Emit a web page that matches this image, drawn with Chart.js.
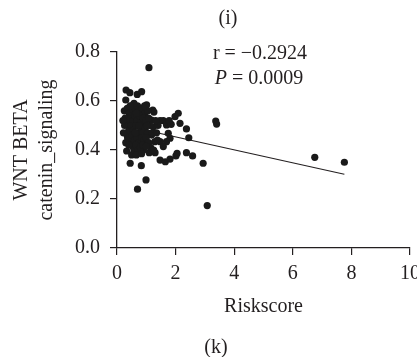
<!DOCTYPE html>
<html>
<head>
<meta charset="utf-8">
<script src="https://cdn.jsdelivr.net/npm/chart.js@4"></script>
<style>
  html, body { margin: 0; padding: 0; background: #fff; overflow: hidden; width: 417px; height: 357px; }
  #wrap { position: relative; width: 417px; height: 357px; overflow: hidden; }
  canvas { position: absolute; left: 0; top: 0; }
  .lbl { position: absolute; font-family: "Liberation Serif", "Times New Roman", serif; font-size: 20px; color: #231f20; white-space: nowrap; transform: translate(-50%, -50%); line-height: 1; }
</style>
</head>
<body>
<div id="wrap">
  <canvas id="c" width="440" height="357"></canvas>
  <div class="lbl" style="left:228px; top:17px;">(i)</div>
  <div class="lbl" style="left:260px; top:52px;">r = −0.2924</div>
  <div class="lbl" style="left:259px; top:77px;"><i>P</i> = 0.0009</div>
  <div class="lbl" style="left:216px; top:346px;">(k)</div>
</div>
<script>
// Data
const riskscore = [
  1.09, 0.31, 0.44, 0.69, 0.84, 0.30, 1.01, 1.22, 2.09, 1.98, 2.15, 3.37, 3.40,
  0.31, 0.33, 0.33, 0.45, 0.58, 0.70, 0.83, 0.99, 0.90, 1.10, 1.30, 1.47, 1.65,
  1.81, 2.01, 2.05, 2.37, 2.58, 2.94, 3.08, 6.75, 7.76, 2.37, 2.45, 1.69, 1.75,
  1.58, 1.47, 1.81, 1.69, 1.47, 1.58, 1.29, 1.18, 1.24, 1.18, 1.26, 1.85, 1.78,
  0.25, 0.35, 0.42, 0.50, 0.55, 0.62, 0.70, 0.78, 0.86, 0.95, 1.05, 0.28, 0.38,
  0.46, 0.54, 0.60, 0.68, 0.76, 0.82, 0.90, 0.98, 1.08, 0.26, 0.40, 0.48, 0.56,
  0.64, 0.72, 0.80, 0.88, 0.96, 1.04, 1.12, 0.36, 0.44, 0.52, 0.60, 0.68, 0.76,
  0.84, 0.92, 1.00, 1.08, 0.30, 0.48, 0.56, 0.64, 0.72, 0.80, 0.88, 1.15, 1.20,
  0.40, 0.62, 0.74, 0.58, 0.45, 0.66, 0.94, 1.02, 1.35, 1.40, 1.38, 1.32, 0.22,
  0.50, 0.66, 0.84, 1.00, 1.25, 0.20
];
const wntBeta = [
  0.736, 0.645, 0.634, 0.627, 0.638, 0.604, 0.584, 0.563, 0.550, 0.536, 0.509, 0.518, 0.506,
  0.522, 0.465, 0.396, 0.346, 0.396, 0.240, 0.336, 0.278, 0.400, 0.389, 0.389, 0.359, 0.352,
  0.363, 0.376, 0.386, 0.389, 0.376, 0.346, 0.173, 0.370, 0.350, 0.486, 0.450, 0.502, 0.468,
  0.520, 0.520, 0.448, 0.434, 0.434, 0.414, 0.434, 0.461, 0.495, 0.522, 0.555, 0.505, 0.520,
  0.560, 0.570, 0.550, 0.580, 0.560, 0.570, 0.580, 0.560, 0.570, 0.550, 0.560, 0.530, 0.510,
  0.530, 0.520, 0.540, 0.520, 0.540, 0.510, 0.530, 0.520, 0.530, 0.500, 0.480, 0.500, 0.480,
  0.500, 0.470, 0.490, 0.470, 0.490, 0.470, 0.500, 0.450, 0.440, 0.460, 0.440, 0.450, 0.430,
  0.450, 0.440, 0.450, 0.430, 0.430, 0.420, 0.410, 0.420, 0.400, 0.410, 0.420, 0.410, 0.470,
  0.420, 0.470, 0.500, 0.590, 0.580, 0.550, 0.580, 0.500, 0.470, 0.500, 0.440, 0.520, 0.470,
  0.380, 0.380, 0.385, 0.415, 0.400, 0.520
];
// Regression line end points
const fitX = [0.17, 7.76];
const fitY = [0.502, 0.301];
const xTicks = [0, 2, 4, 6, 8, 10];
const yTicks = [0.0, 0.2, 0.4, 0.6, 0.8];
const xTitle = 'Riskscore';
const yTitle = ['WNT BETA', 'catenin_signaling'];

const FONT = { family: '"Liberation Serif", "Times New Roman", serif', size: 20 };
const INK = '#231f20';

const scatterPts = riskscore.map((x, i) => ({ x: x, y: wntBeta[i] }));
const fitPts = fitX.map((x, i) => ({ x: x, y: fitY[i] }));

new Chart(document.getElementById('c'), {
  type: 'scatter',
  data: {
    datasets: [
      {
        type: 'line',
        data: fitPts,
        borderColor: INK,
        borderWidth: 1.1,
        pointRadius: 0,
        fill: false,
        order: 2
      },
      {
        data: scatterPts,
        backgroundColor: '#1a1a1a',
        borderColor: '#1a1a1a',
        borderWidth: 0,
        pointRadius: 3.6,
        order: 1
      }
    ]
  },
  options: {
    responsive: false,
    animation: false,
    events: [],
    layout: { padding: { top: 52, right: 30, left: 0, bottom: 0 } },
    plugins: { legend: { display: false }, tooltip: { enabled: false }, title: { display: false } },
    scales: {
      x: {
        type: 'linear',
        min: 0, max: 10,
        afterBuildTicks: s => { s.ticks = xTicks.map(v => ({ value: v })); },
        afterFit: s => { s.height = 109; },
        grid: { display: true, drawOnChartArea: false, drawTicks: true, tickLength: 7, color: INK, lineWidth: 1.2 },
        border: { display: true, color: INK, width: 1.3 },
        ticks: { color: INK, font: FONT, padding: 7, maxRotation: 0, callback: v => String(v) },
        title: { display: true, text: xTitle, color: INK, font: FONT, padding: { top: 0, bottom: 38 } }
      },
      y: {
        type: 'linear',
        min: 0, max: 0.8,
        afterBuildTicks: s => { s.ticks = yTicks.map(v => ({ value: v })); },
        afterFit: s => { s.width = 117; },
        grid: { display: true, drawOnChartArea: false, drawTicks: true, tickLength: 7, color: INK, lineWidth: 1.2 },
        border: { display: true, color: INK, width: 1.3 },
        ticks: { color: INK, font: FONT, padding: 10, callback: v => Number(v).toFixed(1) },
        title: { display: true, text: yTitle, color: INK, font: Object.assign({}, FONT, { lineHeight: 1.25 }), padding: { top: 9.5, bottom: 0 } }
      }
    }
  }
});
</script>
</body>
</html>
